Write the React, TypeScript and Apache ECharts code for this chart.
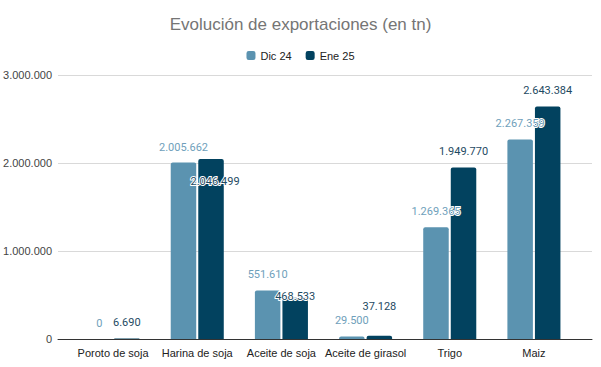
import React, { useEffect, useRef } from "react";
import * as echarts from "echarts";

const categories = ["Poroto de soja", "Harina de soja", "Aceite de soja", "Aceite de girasol", "Trigo", "Maiz"];
const dic24 = [0, 2005662, 551610, 29500, 1269365, 2267359];
const ene25 = [6690, 2046499, 468533, 37128, 1949770, 2643384];
const seriesNames = ["Dic 24", "Ene 25"];
const yTicks = [0, 1000000, 2000000, 3000000];

// per-label offsets (Google Sheets moved some labels to avoid overlap)
const dicOffsets: [number, number][] = [[0, 0], [0, 0], [0, 0], [0, 0], [0, 0], [0, 0]];
const eneOffsets: [number, number][] = [[0, 0], [4, 38], [0, 14], [0, -14], [0, 0], [0, 0]];

const fmt = (v: number) => String(Math.round(v)).replace(/\B(?=(\d{3})+(?!\d))/g, ".");

const C_DIC = "#5b93b0";
const C_ENE = "#02425f";
const L_DIC = "#6f9fbb";
const L_ENE = "#1e4a62";

export default function App() {
  const ref = useRef<HTMLDivElement>(null);
  useEffect(() => {
    document.body.style.margin = "0";
    if (!ref.current) return;
    const chart = echarts.init(ref.current, undefined, { renderer: "svg" });
    const mk = (vals: number[], offs: [number, number][]) =>
      vals.map((v, i) => ({
        value: v,
        label: { offset: offs[i] },
      }));
    const labelBase = (color: string) => ({
      show: true,
      position: "top",
      distance: 10,
      fontFamily: "Roboto",
      fontSize: 11,
      color,
      textBorderColor: "#fff",
      textBorderWidth: 2,
      formatter: (p: any) => fmt(p.value),
    });
    chart.setOption({
      animation: false,
      title: {
        text: "Evolución de exportaciones (en tn)",
        left: "center",
        top: 11,
        textStyle: { fontFamily: "Liberation Sans, Arial", fontSize: 17, fontWeight: "normal", color: "#757575" },
      },
      legend: {
        top: 45,
        left: "center",
        itemWidth: 9,
        itemHeight: 9,
        itemGap: 14,
        icon: "roundRect",
        textStyle: { fontFamily: "Liberation Sans, Arial", fontSize: 11, color: "#222" },
        data: seriesNames,
      },
      grid: [
        { left: 58, right: 9, top: 75, bottom: 28 },
        { left: 71, right: 25, top: 75, bottom: 28 },
      ],
      xAxis: [
        {
          gridIndex: 0,
          type: "category",
          data: categories,
          axisLine: { show: true, lineStyle: { color: "#333", width: 1 } },
          axisTick: { show: false },
          axisLabel: { show: false },
        },
        {
          gridIndex: 1,
          type: "category",
          data: categories,
          axisLine: { show: false },
          axisTick: { show: false },
          axisLabel: {
            interval: 0,
            margin: 8,
            fontFamily: "Liberation Sans, Arial",
            fontSize: 11,
            color: "#222",
          },
        },
      ],
      yAxis: [
        {
          gridIndex: 0,
          type: "value",
          min: yTicks[0],
          max: yTicks[yTicks.length - 1],
          interval: 1000000,
          axisLine: { show: false },
          axisTick: { show: false },
          splitLine: { lineStyle: { color: "#d9d9d9" } },
          axisLabel: {
            margin: 6,
            fontFamily: "Liberation Sans, Arial",
            fontSize: 11,
            color: "#444",
            formatter: (v: number) => fmt(v),
          },
        },
        {
          gridIndex: 1,
          type: "value",
          min: yTicks[0],
          max: yTicks[yTicks.length - 1],
          interval: 1000000,
          show: false,
          splitLine: { show: false },
        },
      ],
      series: [
        {
          name: seriesNames[0],
          type: "bar",
          xAxisIndex: 1,
          yAxisIndex: 1,
          barWidth: 25.5,
          barGap: "8%",
          itemStyle: { color: C_DIC, borderRadius: [2, 2, 0, 0] },
          label: labelBase(L_DIC),
          data: mk(dic24, dicOffsets),
        },
        {
          name: seriesNames[1],
          type: "bar",
          xAxisIndex: 1,
          yAxisIndex: 1,
          barWidth: 25.5,
          barGap: "8%",
          itemStyle: { color: C_ENE, borderRadius: [2, 2, 0, 0] },
          label: labelBase(L_ENE),
          data: mk(ene25, eneOffsets),
        },
      ],
    });
    return () => chart.dispose();
  }, []);
  return <div ref={ref} style={{ width: 601, height: 367 }} />;
}
